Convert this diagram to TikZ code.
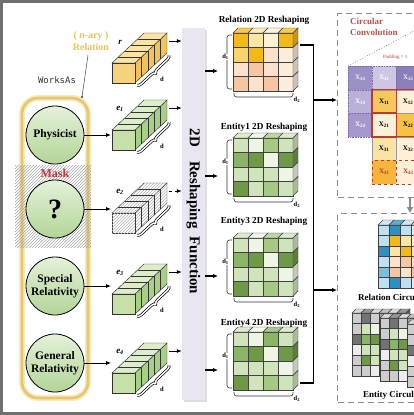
\documentclass[tikz,border=0pt]{standalone}
\usepackage{fontspec}
\setmainfont{Liberation Serif}
\setmonofont{DejaVu Sans Mono}
\usetikzlibrary{arrows.meta,decorations.pathreplacing,patterns,shadows,calc}

\definecolor{framegray}{HTML}{707070}
\definecolor{gold}{HTML}{E9C25A}
\definecolor{capin}{HTML}{E8C66A}
\definecolor{capout}{HTML}{F7EAC0}
\definecolor{cirtop}{HTML}{E4F1D9}
\definecolor{cirbot}{HTML}{B3D598}
\definecolor{maskred}{HTML}{C8323C}
\definecolor{yfront}{HTML}{F7D27C}
\definecolor{ytop}{HTML}{FBE3A2}
\definecolor{yside}{HTML}{F1C25E}
\definecolor{gfront}{HTML}{C6E0A8}
\definecolor{gtop}{HTML}{DDEDCB}
\definecolor{gside}{HTML}{A8CF87}
\definecolor{panelc}{HTML}{EAE6F1}
\definecolor{Yd}{HTML}{F3B916}
\definecolor{Ym}{HTML}{F8D36E}
\definecolor{Yl}{HTML}{FBE5A4}
\definecolor{Yc}{HTML}{FDF1D6}
\definecolor{Pl}{HTML}{FCE1CC}
\definecolor{Pm}{HTML}{F6C5A2}
\definecolor{Pc}{HTML}{FDEDDD}
\definecolor{Ga}{HTML}{EEF5E4}
\definecolor{Gb}{HTML}{D0E4BC}
\definecolor{Gc}{HTML}{A5C982}
\definecolor{Gd}{HTML}{8AB567}
\definecolor{Ge}{HTML}{6E9A48}
\definecolor{Ha}{HTML}{EDEDED}
\definecolor{Hb}{HTML}{CDCDCD}
\definecolor{Hc}{HTML}{A8A8A8}
\definecolor{Hd}{HTML}{929292}
\definecolor{He}{HTML}{737373}
\definecolor{Ba}{HTML}{DDEFF8}
\definecolor{Bb}{HTML}{BFE0F0}
\definecolor{Bc}{HTML}{7DBDE0}
\definecolor{Bd}{HTML}{2F8FC0}
\definecolor{Ua}{HTML}{9D90C4}
\definecolor{Ub}{HTML}{CFC6E4}
\definecolor{Uc}{HTML}{8C7EBA}
\definecolor{Ud}{HTML}{BAB0D8}
\definecolor{Ue}{HTML}{A698CC}
\definecolor{Xo}{HTML}{F8C95A}
\definecolor{Xy}{HTML}{F6C343}
\definecolor{Xc}{HTML}{FDF0D6}
\definecolor{Xl}{HTML}{FBE3A6}
\definecolor{Xr}{HTML}{F7B53B}
\definecolor{convred}{HTML}{C0392B}
\definecolor{titlered}{HTML}{B5524A}
\definecolor{dashgray}{HTML}{8C8C8C}
\definecolor{padpurple}{HTML}{7A6AA8}

\newcommand\gridcube[7]{%
  \foreach \cl [count=\i from 0] in {#7} {%
    \pgfmathtruncatemacro\rr{\i/#5}%
    \pgfmathtruncatemacro\cc{\i-\rr*#5}%
    \filldraw[cellb, fill=\cl] ({#1+#3*\cc},{#2+#4*\rr}) rectangle ++(#3,#4);
    \ifnum\rr=0 \filldraw[cellb, fill=\cl!75!white] ({#1+#3*\cc},#2) -- ++(#6,-#6) -- ++(#3,0) -- ++(-#6,#6) -- cycle;\fi
    \ifnum\cc=\numexpr#5-1\relax \filldraw[cellb, fill=\cl!82!black] ({#1+#3*(\cc+1)},{#2+#4*\rr}) -- ++(#6,-#6) -- ++(0,#4) -- ++(-#6,#6) -- cycle;\fi
  }}

\newcommand\embbar[7]{%
 \begin{scope}[shift={(112,#2)}]
  \filldraw[barline, fill=#5, #6] (23,0) -- (55,-30) -- (55,-50) -- (23,-20) -- cycle;
  \filldraw[barline, fill=#4, #6] (0,-20) -- (23,-20) -- (55,-50) -- (32,-50) -- cycle;
  \foreach \k in {1,...,4} {\draw[barline] ({6.4*\k},{-20-6*\k}) -- ++(23,0) -- ++(0,20);}
  \filldraw[barline, fill=#3, #6] (0,0) rectangle (23,-20);
  \draw[line width=2.8pt, black, decorate, decoration={brace, amplitude=4pt, mirror, raise=3pt}] (23,0) -- (55,-30);
  \draw[line width=1.4pt, white, decorate, decoration={brace, amplitude=4pt, mirror, raise=3pt}] (23,0) -- (55,-30);
  \node[dlab] (#1d) at (50,-4) {d};
  \node[vlab] (#1lab) at (8,-41) {#7};
  \coordinate (#1front) at (-1,-10);
  \coordinate (#1out) at (57,-42);
 \end{scope}}

\newcommand\rmatrix[4]{%
  \gridcube{233}{#1}{15}{14.5}{4}{5}{#2}
  \draw[brk] (232,{#1+2}) -- (227,{#1+2}) -- (227,{#1+56}) -- (232,{#1+56});
  \node[dlab, fill=white, inner sep=0.6pt] (#3d1) at (225.5,{#1+24}) {d\textsubscript{1}};
  \draw[brk] (234,{#1+60}) -- (234,{#1+64}) -- (293,{#1+64}) -- (293,{#1+60});
  \node[dlab, anchor=west, inner sep=0.5pt] (#3d2) at (293,{#1+67}) {d\textsubscript{2}};
  \node[mtitle] (#3t) at (264,{#1-#4}) {#3 2D Reshaping};
  \coordinate (#3in) at (218,{#1+38});
}

\newcommand\ccell[6]{%
  \node[convcell, fill=#3, text=#5, #6] (#1) at (#2) {\textbf{X\textsubscript{#4}}};}

\begin{document}
\begin{tikzpicture}[x=1pt,y=-1pt,
  barline/.style={draw=black!80, line width=0.45pt},
  cellb/.style={draw=black!75, line width=0.45pt},
  dlab/.style={font=\bfseries\fontsize{6.5}{7}\selectfont, inner sep=0.5pt},
  vlab/.style={font=\bfseries\itshape\fontsize{9}{10}\selectfont},
  brk/.style={line width=0.6pt, rounded corners=2.5pt, black!80},
  mtitle/.style={font=\bfseries\fontsize{9.2}{10}\selectfont},
  arr/.style={-{Latex[length=5pt,width=4pt]}, line width=0.8pt},
  marr/.style={-{Latex[length=5pt,width=4.5pt]}, line width=1.5pt},
  ent/.style={circle, draw=black, line width=0.8pt, minimum size=58pt, top color=cirtop, bottom color=cirbot, font=\bfseries\fontsize{11.5}{12.5}\selectfont, align=center, inner sep=0pt},
  convcell/.style={minimum width=24pt, minimum height=23.5pt, inner sep=0pt, anchor=north west, font=\fontsize{7}{8}\selectfont},
  padcell/.style={draw=padpurple, densely dotted, line width=0.6pt},
  incell/.style={draw=black!40, line width=0.4pt},
  dashbox/.style={draw=dashgray, dash pattern=on 6pt off 4pt, line width=1.3pt, anchor=north west, inner sep=0pt},
]
\useasboundingbox (0,0) rectangle (414,415);
\clip (0,0) rectangle (414,415);

% frame
\fill[framegray] (0,0) rectangle (414,3);
\fill[framegray] (0,0) rectangle (3,415);
\fill[framegray] (0,412) rectangle (414,415);

% capsule
\node[draw=capout, line width=6pt, rounded corners=16pt, minimum width=66pt, minimum height=300pt] (capglow) at (55,248) {};
\node[draw=capin, line width=2.6pt, rounded corners=16pt, minimum width=66pt, minimum height=300pt] (cap) at (55,248) {};

% relation label
\node[text=gold, font=\bfseries\fontsize{10}{12}\selectfont, align=center] (nary) at (91,41) {( \textit{n}-ary )\\Relation};
\coordinate (capdot) at (82,97);
\draw[black!75, line width=0.5pt] (nary.south) ++(-3,1) -- (capdot);
\fill[black!75] (capdot) circle (1.2pt);
\node[font=\ttfamily\fontsize{9}{10}\selectfont, text=black!80] (works) at (57,80) {WorksAs};

% mask hatch
\fill[pattern=north east lines, pattern color=black!35] (15,165) rectangle (91,247);
\node[text=maskred, font=\bfseries\fontsize{12}{13}\selectfont] (mask) at (55,173) {Mask};

% entity circles
\node[ent] (c1) at (55,135) {Physicist};
\node[ent] (c2) at (55,209) {\fontsize{28}{28}\selectfont ?};
\node[ent] (c3) at (55,286) {Special\\Relativity};
\node[ent] (c4) at (55,363) {General\\Relativity};

% embedding bars
\embbar{br}{83}{yfront}{ytop}{yside}{}{r}
\embbar{b1}{150}{gfront}{gtop}{gside}{}{e\textsubscript{1}}
\embbar{b2}{233}{white}{white}{white}{postaction={pattern=north east lines, pattern color=black!30}}{e\textsubscript{2}}
\embbar{b3}{314}{gfront}{gtop}{gside}{}{e\textsubscript{3}}
\embbar{b4}{393}{gfront}{gtop}{gside}{}{e\textsubscript{4}}

\draw[arr] (c1.east) -- (c1.east -| b1front);
\draw[arr] (c2.east) -- (c2.east -| b2front);
\draw[arr] (c3.east) -- (c3.east -| b3front);
\draw[arr] (c4.east) -- (c4.east -| b4front);

% panel
\node[fill=panelc, minimum width=23pt, minimum height=372pt, inner sep=0pt, drop shadow={opacity=0.25, shadow xshift=1.5pt, shadow yshift=-1.5pt}] (panel) at (193.5,214) {};
\node[rotate=-90, font=\bfseries\fontsize{15}{16}\selectfont] (ptext) at (193.5,211.5) {2D\hspace{14pt}Reshaping\hspace{8pt}Function};

\draw[arr] (brout) -- (brout -| panel.west);
\draw[arr] (b1out) -- (b1out -| panel.west);
\draw[arr, dashed] (b2out) -- (b2out -| panel.west);
\draw[arr] (b3out) -- (b3out -| panel.west);
\draw[arr] (b4out) -- (b4out -| panel.west);

% reshaped matrices
\rmatrix{33}{Yd,Yl,Yc,Yd, Ym,Yd,Pl,Pc, Pl,Pm,Pl,Pc, Pm,Pl,Pm,Pc}{Relation}{13}
\rmatrix{138}{Gb,Ga,Gc,Gb, Gd,Ge,Ga,Ge, Gb,Gb,Gb,Ga, Ge,Gb,Gc,Gb}{Entity1}{11}
\rmatrix{238}{Gb,Ga,Gc,Gb, Gd,Ge,Ga,Ge, Gb,Gb,Gb,Ga, Ge,Gb,Gc,Gb}{Entity3}{17}
\rmatrix{332}{Gb,Ga,Gd,Gb, Gd,Ge,Ga,Ge, Gb,Gb,Gb,Ga, Ge,Gb,Gc,Gb}{Entity4}{9}

\draw[marr] (panel.east |- Relationin) -- (Relationin);
\draw[marr] (panel.east |- Entity1in) -- (Entity1in);
\draw[marr] (panel.east |- Entity3in) -- (Entity3in);
\draw[marr] (panel.east |- Entity4in) -- (Entity4in);

% right bracket
\coordinate (rb1) at (300,45);
\coordinate (rb2) at (313.5,45);
\coordinate (rb3) at (313.5,383);
\coordinate (rb4) at (300,383);
\draw[line width=1.3pt] (rb1) -- (rb2) -- (rb3) -- (rb4);

% circular convolution box
\node[dashbox, minimum width=95pt, minimum height=184pt] (conv) at (337,13) {};
\node[dashbox, minimum width=95pt, minimum height=189pt] (circ) at (337,213) {};
\coordinate (ra1) at (313.5,100);
\coordinate (ra2) at (313.5,290);
\draw[marr] (ra1) -- (ra1 -| conv.west);
\draw[marr] (ra2) -- (ra2 -| circ.west);
\coordinate (ga) at (410,198);
\draw[-{Triangle[length=6pt,width=6pt]}, black!45, line width=1.8pt] (ga) -- (ga |- circ.north);

\node[anchor=north west, text=titlered, font=\bfseries\fontsize{9}{11.5}\selectfont, align=left, inner sep=0pt] (ctitle) at (350,18) {Circular\\Convolution};
\node[anchor=west, text=convred, font=\fontsize{5}{6}\selectfont, inner sep=0pt] (padtxt) at (383,57) {Padding = 1};
\draw[padpurple, dotted, line width=0.7pt] (348,66) -- (414,31);

% conv grid
\ccell{x00}{348,66}{Ua}{44}{white!85!Ua}{padcell}
\ccell{x01}{372,66}{Ub}{41}{white}{padcell}
\ccell{x02}{396,66}{Uc}{42}{white!85!Uc}{padcell}
\ccell{x10}{348,89.5}{Ud}{14}{white}{padcell}
\ccell{x20}{348,113}{Ue}{24}{white}{padcell}
\ccell{x11}{372,89.5}{Xo}{11}{black}{incell}
\ccell{x12}{396,89.5}{Xc}{12}{black}{incell}
\ccell{x21}{372,113}{Xc}{21}{black}{incell}
\ccell{x22}{396,113}{Xy}{22}{black}{incell}
\ccell{x31}{372,136.5}{Xl}{31}{black}{incell}
\ccell{x32}{396,136.5}{Xc}{32}{black}{incell}
\ccell{x41}{372,160}{Xr}{41}{convred}{draw=convred, dashed, line width=0.9pt}
\ccell{x42}{396,160}{Xc}{42}{convred}{draw=convred, dashed, line width=0.9pt}
\draw[convred, line width=1.2pt] (x11.north west) rectangle (440,136.5);
\draw[convred, line width=1.2pt] (x11.north west) rectangle (x11.south east);
\draw[convred, line width=1.2pt] (x21.north west) rectangle (x21.south east);

% relation circular padded matrix
\gridcube{378}{225}{11}{10.5}{6}{5}{Bb,Bd,Bb,Ba,Bb,Bd, Bb,Yd,Yl,Yc,Yd,Bb, Bd,Yl,Yd,Pl,Pc,Bd, Bb,Pl,Pm,Pl,Pc,Bb, Bc,Pm,Pl,Pm,Pc,Bc, Bb,Bd,Bb,Ba,Bb,Bd}
\node[anchor=west, font=\bfseries\fontsize{9}{10}\selectfont, inner sep=0pt] (rct) at (358,297) {Relation Circular};

% entity circular padded matrices
\gridcube{352}{313}{9}{10.5}{6}{4}{Hb,He,Hb,Hc,Hb,He, Hb,Gb,Ga,Gc,Gb,Hb, He,Gd,Ge,Ga,Ge,Hd, Ha,Gb,Gb,Gb,Ga,Hb, Hb,Ge,Gb,Gc,Gb,He, Hb,Hb,Ha,Hc,Hb,Hb}
\gridcube{380}{318}{9}{10.5}{6}{4}{Hb,He,Hb,Hc,Hb,He, Hb,Gb,Ga,Gc,Gb,Hb, He,Gd,Ge,Ga,Ge,Hd, Ha,Gb,Gb,Gb,Ga,Hb, Hb,Ge,Gb,Gc,Gb,He, Hb,Hb,Ha,Hc,Hb,Hb}
\gridcube{407}{324}{9}{10.5}{6}{4}{Hb,He,Hb,Hc,Hb,He, Hb,Gb,Ga,Gc,Gb,Hb, He,Gd,Ge,Ga,Ge,Hd, Ha,Gb,Gb,Gb,Ga,Hb, Hb,Ge,Gb,Gc,Gb,He, Hb,Hb,Ha,Hc,Hb,Hb}
\node[anchor=west, font=\bfseries\fontsize{9}{10}\selectfont, inner sep=0pt] (ect) at (363,395) {Entity Circular};
\end{tikzpicture}
\end{document}
